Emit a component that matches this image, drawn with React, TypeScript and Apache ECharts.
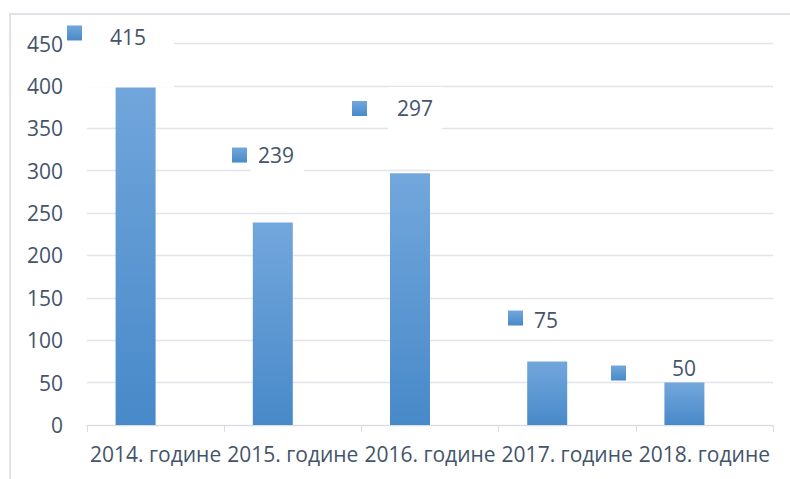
import React, { useEffect, useRef } from "react";
import * as echarts from "echarts";

// ---- data ----
const categories = ["2014. године", "2015. године", "2016. године", "2017. године", "2018. године"];
const values = [415, 239, 297, 75, 50];
const emptyValues = [null, null, null, null, null];
const yMin = 0;
const yMax = 450;
const yStep = 50;

// ---- layout of the manually placed data labels (relative to bar top-left) ----
const labelLayouts = [
  { dx: -48.6, dy: -40.3, gap: 3, pad: [48.5, 28, 39.5, 25], bg: true },
  { dx: -20.8, dy: -67.4, gap: 4, pad: [7.5, 10, 7.5, 7], bg: true },
  { dx: -38, dy: -64.8, gap: 21, pad: [10.5, 9, 11.5, 9], bg: true },
  { dx: -19.2, dy: -43.4, gap: 7, pad: [6, 6, 3, 4], bg: true },
  { dx: -53.4, dy: -9.6, gap: 46, pad: [0, 0, 10, 0], bg: false },
];

const FONT = "'Open Sans', 'Noto Sans', sans-serif";
const TEXT = "#44546A";
const GRID = "#e1e4e9";

export default function App() {
  const ref = useRef<HTMLDivElement>(null);

  useEffect(() => {
    if (!ref.current) return;
    const chart = echarts.init(ref.current, undefined, { renderer: "svg" });
    const barGrad = () =>
      new echarts.graphic.LinearGradient(0, 0, 0, 1, [
        { offset: 0, color: "#72a7dc" },
        { offset: 1, color: "#4889c9" },
      ]);

    const data = values.map((v, i) => {
      const L = labelLayouts[i];
      return {
        value: v,
        label: {
          show: true,
          position: [L.dx, L.dy],
          align: "left",
          verticalAlign: "middle",
          rich: {
            sq: { width: 15, height: 15, backgroundColor: barGrad() },
            sp: { width: L.gap, height: 1 },
            v: {
              fontSize: 21,
              fontFamily: FONT,
              color: TEXT,
              padding: L.pad,
              backgroundColor: L.bg ? "#ffffff" : "transparent",
            },
          },
        },
      };
    });

    chart.setOption({
      animation: false,
      backgroundColor: "#ffffff",
      textStyle: { fontFamily: FONT },
      grid: { left: 87, right: 17, top: 43.6, bottom: 54, containLabel: false },
      xAxis: {
        type: "category",
        data: categories,
        axisLine: { show: true, lineStyle: { color: "#d9dce1", width: 1 } },
        axisTick: { show: true, length: 7, alignWithLabel: false, lineStyle: { color: "#d9dce1" } },
        axisLabel: { interval: 0, fontSize: 21, fontFamily: FONT, color: TEXT, margin: 18 },
        splitLine: { show: false },
      },
      yAxis: {
        type: "value",
        min: yMin,
        max: yMax,
        interval: yStep,
        axisLine: { show: false },
        axisTick: { show: false },
        axisLabel: { fontSize: 21, fontFamily: FONT, color: TEXT, margin: 24 },
        splitLine: { show: true, lineStyle: { color: GRID, width: 1.3 } },
      },
      series: [
        {
          type: "bar",
          data,
          barWidth: 40,
          barGap: "0%",
          itemStyle: { color: barGrad() },
          label: {
            show: true,
            formatter: (p: any) => `{sq|}{sp|}{v|${p.value}}`,
          },
          z: 2,
        },
        {
          type: "bar",
          data: emptyValues,
          barWidth: 40,
          barGap: "0%",
          itemStyle: { color: barGrad() },
        },
      ],
    });
    return () => chart.dispose();
  }, []);

  return (
    <div
      style={{
        position: "fixed",
        left: 0,
        top: 0,
        width: 790,
        height: 479,
        overflow: "hidden",
        background: "#ffffff",
      }}
    >
      <div ref={ref} style={{ position: "absolute", left: 0, top: 0, width: 790, height: 479 }} />
      <div
        style={{
          position: "absolute",
          left: 9,
          top: 13,
          width: 900,
          height: 600,
          borderLeft: "2px solid #dfe3e8",
          borderTop: "2px solid #dfe3e8",
          zIndex: 2,
          pointerEvents: "none",
        }}
      />
    </div>
  );
}
